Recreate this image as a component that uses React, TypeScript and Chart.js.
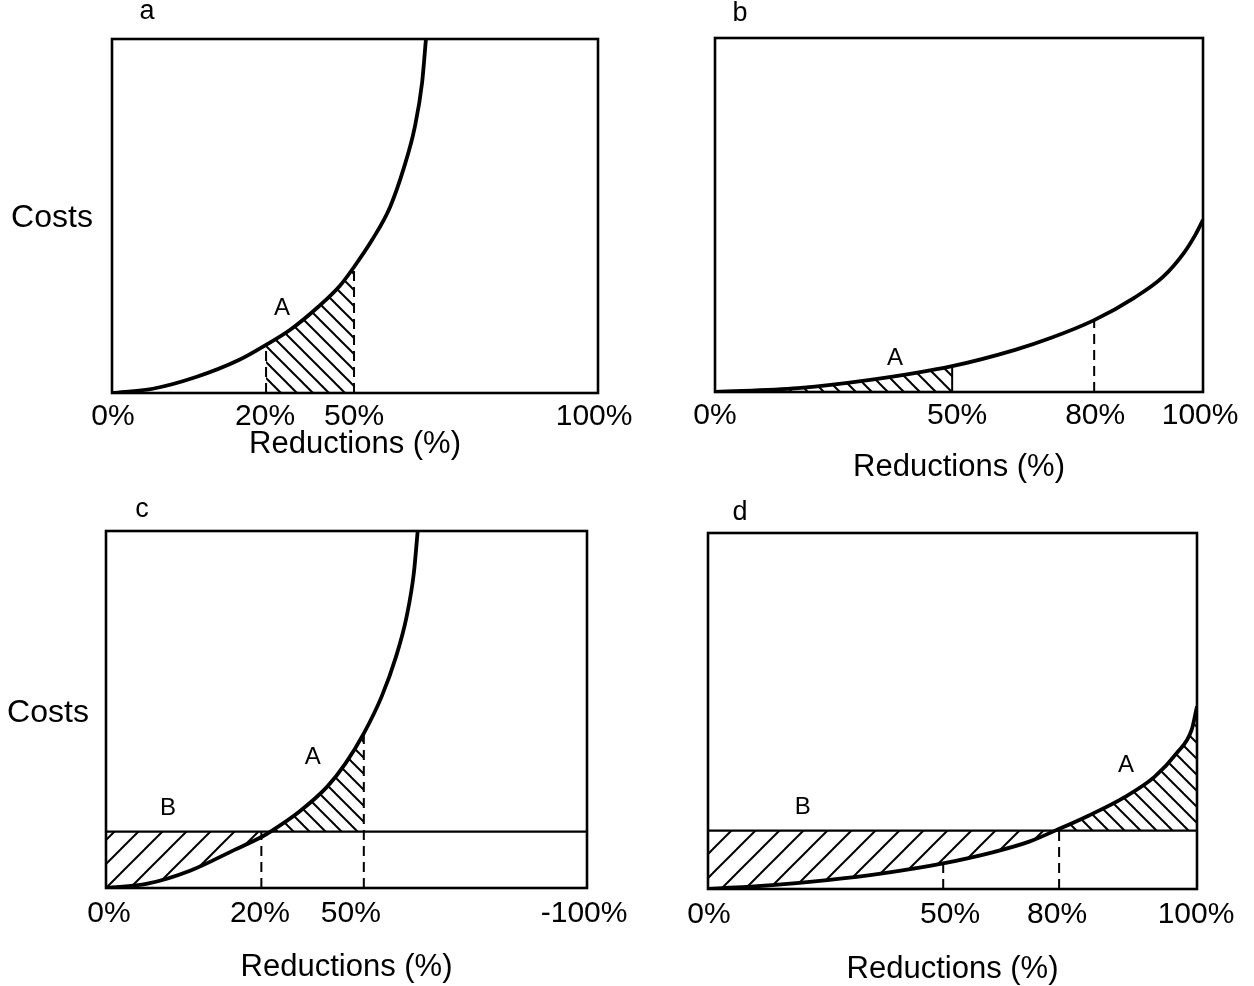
import React, { useEffect, useRef } from 'react';
import { Chart, registerables } from 'chart.js';

Chart.register(...registerables);

const FONT = '"Liberation Sans", Arial, Helvetica, sans-serif';

// ---------- Panel a ----------
const aCurveX = [0, 8.4, 17.3, 26.1, 31.7, 36.6, 42.4, 46.9, 49.8, 53.5, 57.2, 60.1, 62.3, 63.8, 64.6];
const aCurveY = [0, 1.2, 4.5, 9.3, 13.6, 17.8, 24.3, 30.3, 35.6, 43.2, 52.5, 63.8, 75.1, 87.6, 100];
const aTickPos = [0.2, 31.5, 49.8, 99.2];
const aTickLabels = ['0%', '20%', '50%', '100%'];
const aMarkerX = [31.7, 49.8];
const aMarkerTop = [13.6, 35.6];
const aHatchA = [31.7, 49.8];
const aNotes = [{ text: 'A', x: 35.0, y: 24.0 }];

// ---------- Panel b ----------
const bCurveX = [0, 17.0, 31.8, 48.6, 61.5, 68.9, 77.7, 85.9, 91.8, 96.1, 98.4, 100];
const bCurveY = [0, 1.1, 3.4, 7.3, 11.9, 15.3, 20.3, 26.6, 32.5, 39.3, 44.3, 48.6];
const bTickPos = [0, 49.6, 77.9, 99.4];
const bTickLabels = ['0%', '50%', '80%', '100%'];
const bMarkerX = [48.6, 77.7];
const bMarkerTop = [7.3, 20.3];
const bHatchA = [0, 48.6];
const bNotes = [{ text: 'A', x: 36.9, y: 9.6 }];

// ---------- Panel c ----------
const cCurveX = [0, 8.6, 17.6, 26.6, 32.6, 34.2, 40.1, 46.0, 49.8, 53.6, 57.3, 60.3, 62.5, 64.0, 64.8];
const cCurveY = [0, 1.2, 4.9, 10.6, 14.5, 15.8, 21.3, 28.4, 34.9, 43.3, 53.6, 64.8, 76.0, 88.2, 100];
const cLevel = 15.8;
const cTickPos = [0.6, 32.0, 50.9, 99.4];
const cTickLabels = ['0%', '20%', '50%', '-100%'];
const cMarkerX = [32.3, 53.6];
const cMarkerTop = [15.8, 43.3];
const cHatchB = [0, 34.2];
const cHatchA = [34.2, 53.6];
const cNotes = [{ text: 'A', x: 43.0, y: 36.5 }, { text: 'B', x: 12.9, y: 22.4 }];

// ---------- Panel d ----------
const dCurveX = [0, 13.1, 24.4, 35.7, 48.1, 58.2, 65.7, 71.0, 77.8, 85.3, 91.3, 95.8, 98.9, 100];
const dCurveY = [0, 1.1, 2.5, 4.4, 7.2, 10.3, 13.3, 16.4, 20.6, 25.9, 31.5, 38.1, 44.7, 51.3];
const dLevel = 16.4;
const dTickPos = [0.2, 49.5, 71.4, 99.8];
const dTickLabels = ['0%', '50%', '80%', '100%'];
const dMarkerX = [48.1, 71.8];
const dMarkerTop = [7.2, 16.4];
const dHatchB = [0, 71.0];
const dHatchA = [71.0, 100];
const dNotes = [{ text: 'A', x: 85.5, y: 34.6 }, { text: 'B', x: 19.4, y: 22.8 }];

type Pt = { x: number; y: number };
const pts = (xs: number[], ys: number[]): Pt[] => xs.map((x, i) => ({ x, y: ys[i] }));
const segment = (xs: number[], ys: number[], r: number[]): Pt[] =>
  pts(xs, ys).filter((p) => p.x >= r[0] - 1e-9 && p.x <= r[1] + 1e-9);

function makeHatch(dir: 'back' | 'fwd', s: number, lw: number): CanvasPattern {
  const c = document.createElement('canvas');
  c.width = s;
  c.height = s;
  const g = c.getContext('2d')!;
  g.strokeStyle = '#000';
  g.lineWidth = lw;
  for (const k of [-1, 0, 1]) {
    g.beginPath();
    if (dir === 'back') {
      g.moveTo(k * s - 3, -3);
      g.lineTo(k * s + s + 3, s + 3);
    } else {
      g.moveTo(k * s + s + 3, -3);
      g.lineTo(k * s - 3, s + 3);
    }
    g.stroke();
  }
  return g.createPattern(c, 'repeat')!;
}

type Hatch = { range: number[]; dir: 'back' | 'fwd' };
type PanelCfg = {
  box: { left: number; top: number; w: number; h: number };
  pad: { left: number; top: number; right: number; bottom: number };
  axisH: number;
  tickPad: number;
  titlePadB: number;
  curveX: number[];
  curveY: number[];
  level?: number;
  tickPos: number[];
  tickLabels: string[];
  markerX: number[];
  markerTop: number[];
  markerDash: boolean[];
  hatches: Hatch[];
  notes: { text: string; x: number; y: number }[];
  letter: string;
  letterD: [number, number];
  costs?: [number, number];
};

const panels: PanelCfg[] = [
  {
    box: { left: 0, top: 0, w: 640, h: 490 },
    pad: { left: 112, top: 39, right: 42, bottom: 2 },
    axisH: 95, tickPad: 6, titlePadB: 25.4,
    curveX: aCurveX, curveY: aCurveY,
    tickPos: aTickPos, tickLabels: aTickLabels,
    markerX: aMarkerX, markerTop: aMarkerTop, markerDash: [true, true],
    hatches: [{ range: aHatchA, dir: 'back' }],
    notes: aNotes, letter: 'a', letterD: [35, -27], costs: [-60, 2],
  },
  {
    box: { left: 640, top: 0, w: 614, h: 490 },
    pad: { left: 75, top: 38, right: 51, bottom: 3 },
    axisH: 95, tickPad: 6, titlePadB: 1.4,
    curveX: bCurveX, curveY: bCurveY,
    tickPos: bTickPos, tickLabels: bTickLabels,
    markerX: bMarkerX, markerTop: bMarkerTop, markerDash: [false, true],
    hatches: [{ range: bHatchA, dir: 'back' }],
    notes: bNotes, letter: 'b', letterD: [25, -24],
  },
  {
    box: { left: 0, top: 490, w: 640, h: 496 },
    pad: { left: 106, top: 41, right: 53, bottom: 2 },
    axisH: 96, tickPad: 8, titlePadB: -1.6,
    curveX: cCurveX, curveY: cCurveY, level: cLevel,
    tickPos: cTickPos, tickLabels: cTickLabels,
    markerX: cMarkerX, markerTop: cMarkerTop, markerDash: [true, true],
    hatches: [{ range: cHatchB, dir: 'fwd' }, { range: cHatchA, dir: 'back' }],
    notes: cNotes, letter: 'c', letterD: [36, -21], costs: [-58, 3.5],
  },
  {
    box: { left: 640, top: 490, w: 614, h: 496 },
    pad: { left: 68, top: 43, right: 57, bottom: 0 },
    axisH: 97, tickPad: 8, titlePadB: -1.6,
    curveX: dCurveX, curveY: dCurveY, level: dLevel,
    tickPos: dTickPos, tickLabels: dTickLabels,
    markerX: dMarkerX, markerTop: dMarkerTop, markerDash: [true, true],
    hatches: [{ range: dHatchB, dir: 'fwd' }, { range: dHatchA, dir: 'back' }],
    notes: dNotes, letter: 'd', letterD: [32, -20],
  },
];

function makeDecor(cfg: PanelCfg) {
  return {
    id: 'decor',
    afterDatasetsDraw(chart: any) {
      const { ctx, chartArea: ca, scales } = chart;
      ctx.save();
      ctx.strokeStyle = '#000';
      ctx.lineWidth = 2.6;
      ctx.strokeRect(ca.left, ca.top, ca.right - ca.left, ca.bottom - ca.top);
      ctx.fillStyle = '#000';
      ctx.textAlign = 'center';
      ctx.textBaseline = 'middle';
      ctx.font = `24px ${FONT}`;
      cfg.notes.forEach((n) => {
        ctx.fillText(n.text, scales.x.getPixelForValue(n.x), scales.y.getPixelForValue(n.y));
      });
      ctx.font = `27px ${FONT}`;
      ctx.fillText(cfg.letter, ca.left + cfg.letterD[0], ca.top + cfg.letterD[1]);
      if (cfg.costs) {
        ctx.font = `32px ${FONT}`;
        ctx.fillText('Costs', ca.left + cfg.costs[0], (ca.top + ca.bottom) / 2 + cfg.costs[1]);
      }
      ctx.restore();
    },
  };
}

function Panel({ cfg }: { cfg: PanelCfg }) {
  const ref = useRef<HTMLCanvasElement>(null);
  useEffect(() => {
    const datasets: any[] = [];
    datasets.push({
      data: pts(cfg.curveX, cfg.curveY),
      borderColor: '#000',
      borderWidth: 3.8,
      pointRadius: 0,
      cubicInterpolationMode: 'monotone',
      fill: false,
    });
    if (cfg.level !== undefined) {
      datasets.push({
        data: [{ x: 0, y: cfg.level }, { x: 100, y: cfg.level }],
        borderColor: '#000',
        borderWidth: 2.4,
        pointRadius: 0,
        fill: false,
      });
    }
    cfg.markerX.forEach((mx, i) => {
      datasets.push({
        data: [{ x: mx, y: 0 }, { x: mx, y: cfg.markerTop[i] }],
        borderColor: '#000',
        borderWidth: 2,
        borderDash: cfg.markerDash[i] ? [10, 6] : [],
        pointRadius: 0,
        fill: false,
      });
    });
    cfg.hatches.forEach((h) => {
      datasets.push({
        data: segment(cfg.curveX, cfg.curveY, h.range),
        borderWidth: 0,
        borderColor: 'rgba(0,0,0,0)',
        pointRadius: 0,
        cubicInterpolationMode: 'monotone',
        fill: cfg.level !== undefined ? { value: cfg.level } : 'origin',
        backgroundColor: h.dir === 'back' ? makeHatch('back', 16, 2) : makeHatch('fwd', 24, 2),
      });
    });

    const chart = new Chart(ref.current!, {
      type: 'line',
      data: { datasets },
      plugins: [makeDecor(cfg)],
      options: {
        animation: false,
        responsive: false,
        events: [],
        layout: { padding: cfg.pad },
        plugins: { legend: { display: false }, tooltip: { enabled: false } },
        scales: {
          x: {
            type: 'linear',
            min: 0,
            max: 100,
            grid: { display: false, drawTicks: false },
            border: { display: false },
            afterBuildTicks: (s: any) => {
              s.ticks = cfg.tickPos.map((v) => ({ value: v }));
            },
            afterFit: (s: any) => {
              s.height = cfg.axisH;
            },
            ticks: {
              autoSkip: false,
              maxRotation: 0,
              padding: cfg.tickPad,
              color: '#000',
              font: { family: FONT, size: 30 },
              callback: (_v: any, i: number) => cfg.tickLabels[i],
            },
            title: {
              display: true,
              text: 'Reductions (%)',
              color: '#000',
              font: { family: FONT, size: 31 },
              padding: { top: 0, bottom: cfg.titlePadB },
            },
          },
          y: { type: 'linear', min: 0, max: 100, display: false },
        },
      } as any,
    });
    return () => chart.destroy();
  }, []);
  return (
    <div style={{ position: 'absolute', left: cfg.box.left, top: cfg.box.top, width: cfg.box.w, height: cfg.box.h }}>
      <canvas ref={ref} width={cfg.box.w} height={cfg.box.h} style={{ display: 'block' }} />
    </div>
  );
}

export default function App() {
  return (
    <div style={{ position: 'absolute', left: 0, top: 0, width: 1254, height: 986, background: '#fff' }}>
      {panels.map((p, i) => (
        <Panel key={i} cfg={p} />
      ))}
    </div>
  );
}
